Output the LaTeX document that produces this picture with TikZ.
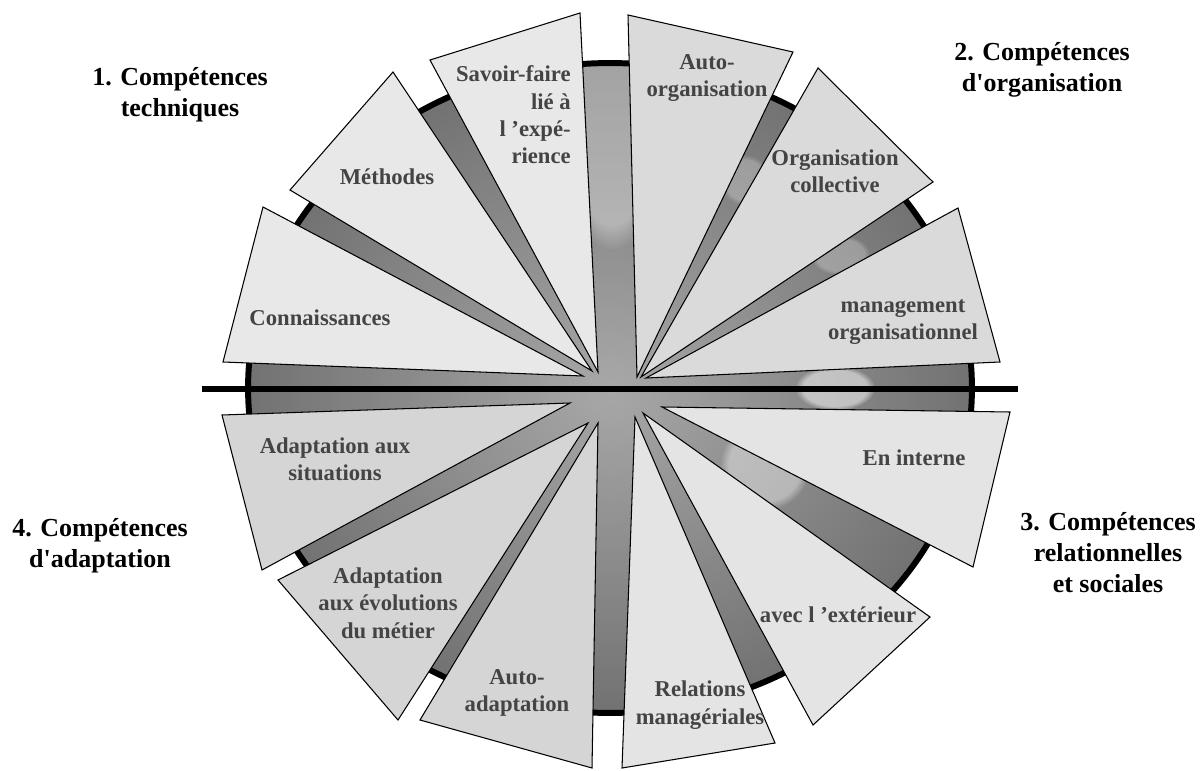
\documentclass[tikz,border=0pt]{standalone}
\usepackage{fontspec}
\setmainfont{Liberation Serif}
\newfontfamily\wedgefont{Liberation Serif}
\usetikzlibrary{fadings}
\definecolor{lblgray}{HTML}{444444}
\definecolor{wlight}{HTML}{E8E8E8}
\definecolor{wmid}{HTML}{DADADA}
\definecolor{wlight2}{HTML}{E4E4E4}
\definecolor{wdark}{HTML}{D5D5D5}
\definecolor{discin}{HTML}{A8A8A8}
\definecolor{discout}{HTML}{727272}
\begin{document}
\begin{tikzpicture}[x=0.02cm,y=-0.02cm,
  wedge/.style={draw=black, line width=0.6pt, line join=miter},
  lbl/.style={font=\wedgefont\fontsize{12.9}{15.6}\selectfont\bfseries, text=lblgray, align=center, inner sep=0pt},
  cat/.style={font=\wedgefont\fontsize{14.8}{17.6}\selectfont\bfseries, text=black, align=center, inner sep=0pt},
  rim/.style={draw=black, line width=3.4pt},
  axis/.style={draw=black, line width=3.2pt},
  glint/.style={fill=white, path fading=circle with fuzzy edge 20 percent}]
\useasboundingbox (0,0) rectangle (1202,770);

% metallic disc behind the wedges
\shade[inner color=discin, outer color=discout] (610,388) ellipse [x radius=7.24cm, y radius=6.5cm];
\begin{scope}
  \clip (610,388) ellipse [x radius=7.24cm, y radius=6.5cm];
  \fill[glint, opacity=0.35] (612,120) ellipse [x radius=1.1cm, y radius=2.6cm];
  \fill[glint, opacity=0.5] (835,388) ellipse [x radius=0.8cm, y radius=0.45cm];
  \fill[glint, opacity=0.4] (765,465) ellipse [x radius=0.9cm, y radius=0.9cm];
  \fill[glint, opacity=0.25] (745,180) ellipse [x radius=0.5cm, y radius=0.5cm];
  \fill[glint, opacity=0.25] (840,255) ellipse [x radius=0.6cm, y radius=0.4cm];
\end{scope}
\draw[rim] (610,388) ellipse [x radius=7.24cm, y radius=6.5cm];

% horizontal axis
\coordinate (axl) at (202,389);
\coordinate (axr) at (1018,389);
\draw[axis] (axl) -- (axr);

% 1. technical skills
\draw[wedge, fill=wlight] (583,376) -- (263,207) -- (223,362) -- cycle;
\draw[wedge, fill=wlight] (592,371) -- (393,72) -- (290,190) -- cycle;
\draw[wedge, fill=wlight] (598,372) -- (580,13) -- (430,60) -- cycle;
% 2. organisation skills
\draw[wedge, fill=wmid] (637,377) -- (628,15) -- (793,52) -- cycle;
\draw[wedge, fill=wmid] (641,377) -- (818,68) -- (933,182) -- cycle;
\draw[wedge, fill=wmid] (646,378) -- (958,208) -- (1000,362) -- cycle;
% 3. relational skills
\draw[wedge, fill=wlight2] (662,407) -- (1010,412) -- (973,567) -- cycle;
\draw[wedge, fill=wlight2] (643,413) -- (930,617) -- (813,725) -- cycle;
\draw[wedge, fill=wlight2] (635,417) -- (775,743) -- (622,768) -- cycle;
% 4. adaptation skills
\draw[wedge, fill=wdark] (598,423) -- (592,768) -- (420,720) -- cycle;
\draw[wedge, fill=wdark] (588,423) -- (398,720) -- (278,580) -- cycle;
\draw[wedge, fill=wdark] (570,403) -- (262,570) -- (222,415) -- cycle;

% wedge labels
\node[lbl] (conn) at (320,318) {Connaissances};
\node[lbl] (meth) at (387,177) {Méthodes};
\node[lbl, align=right, anchor=east] (savoir) at (571,115) {Savoir-faire\\lié à\\l ’expé-\\rience};
\node[lbl] (autoorg) at (707,78) {Auto-\\organisation};
\node[lbl] (orgcol) at (835,171) {Organisation\\collective};
\node[lbl] (mgmt) at (903,322) {management\\organisationnel};
\node[lbl] (interne) at (914,458) {En interne};
\node[lbl] (ext) at (838,615) {avec l ’extérieur};
\node[lbl] (relmgr) at (700,705) {Relations\\managériales};
\node[lbl] (autoad) at (517,693) {Auto-\\adaptation};
\node[lbl] (evol) at (388,603) {Adaptation\\aux évolutions\\du métier};
\node[lbl] (situ) at (335,459) {Adaptation aux\\situations};

% category headings
\node[cat] (cat1) at (180,95) {1. Compétences\\techniques};
\node[cat] (cat2) at (1042,70) {2. Compétences\\d\textquotesingle organisation};
\node[cat] (cat3) at (1108,553) {3. Compétences\\relationnelles\\et sociales};
\node[cat] (cat4) at (100,546) {4. Compétences\\d\textquotesingle adaptation};
\end{tikzpicture}
\end{document}
